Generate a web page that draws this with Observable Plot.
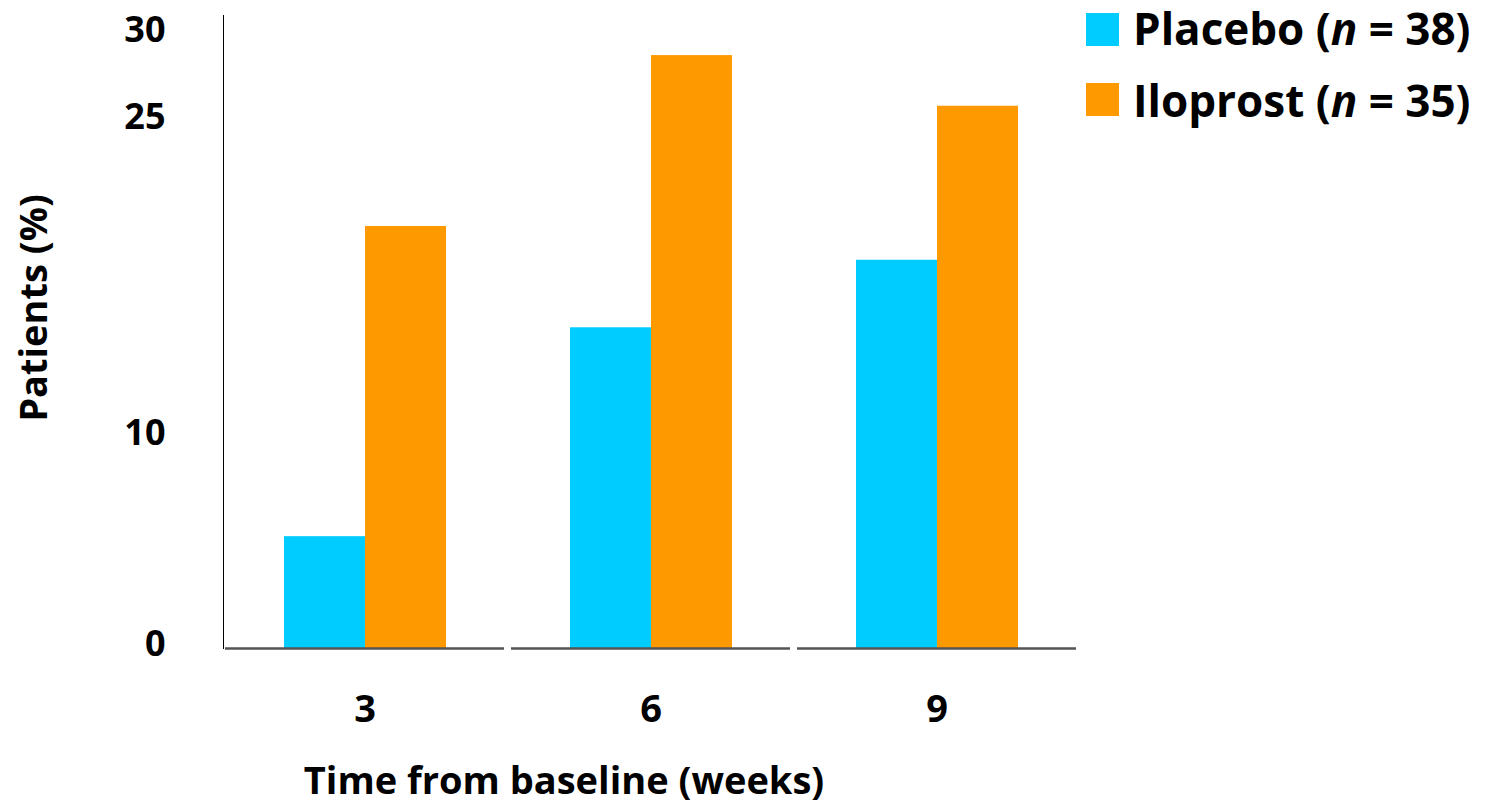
<!DOCTYPE html>
<html>
<head>
<meta charset="utf-8">
<script src="https://cdn.jsdelivr.net/npm/d3@7"></script>
<script src="https://cdn.jsdelivr.net/npm/@observablehq/plot@0.6"></script>
<style>
  html, body { margin: 0; padding: 0; background: #fff; }
  #wrap { position: relative; width: 1491px; height: 806px; font-family: "Open Sans", sans-serif; font-weight: 700; color: #000; }
  #wrap svg { position: absolute; left: 0; top: 0; }
  .lab { position: absolute; white-space: nowrap; line-height: 1; }
  .sw { position: absolute; width: 33px; height: 33px; }
</style>
</head>
<body>
<div id="wrap"></div>
<script>
const weeks = ["3", "6", "9"];
const groups = ["Placebo", "Iloprost"];
const groupLabels = ["Placebo", "Iloprost"];
const groupN = [38, 35];
const placeboValues = [5.3, 15.2, 18.4];
const iloprostValues = [20.0, 28.1, 25.7];
const yTicks = [0, 10, 25, 30];
const colors = ["#00CCFF", "#FF9900"];
const xTitle = "Time from baseline (weeks)";
const yTitle = "Patients (%)";

const rows = [];
weeks.forEach((w, i) => {
  rows.push({week: w, group: groups[0], value: placeboValues[i]});
  rows.push({week: w, group: groups[1], value: iloprostValues[i]});
});

const chart = Plot.plot({
  width: 1491,
  height: 806,
  marginLeft: 222,
  marginRight: 411,
  marginTop: 15,
  marginBottom: 158,
  style: {fontFamily: "'Open Sans', sans-serif", fontWeight: 700, fontSize: "36px", color: "#000", background: "transparent", overflow: "visible"},
  fx: {domain: weeks, paddingInner: 0.01, paddingOuter: 0, label: null},
  x: {domain: groups, paddingInner: 0, paddingOuter: 0.744, axis: null},
  y: {domain: [0, 30], label: null, line: true, ticks: yTicks, tickSize: 0, tickPadding: 58, tickFormat: d => String(d)},
  color: {domain: groups, range: colors},
  marks: [
    Plot.barY(rows, {fx: "week", x: "group", y: "value", fill: "group"}),
    Plot.ruleY([0], {stroke: "#555", strokeWidth: 2.5, insetLeft: 2, insetRight: 2}),
    Plot.axisFx({anchor: "bottom", tickSize: 0, tickPadding: 47, fontSize: 38, label: null})
  ]
});
const wrap = document.getElementById("wrap");
wrap.appendChild(chart);

// nudge y tick labels as placed in the reference (top label sits lower than its tick)
chart.querySelectorAll("text").forEach(el => {
  const g = el.closest("g[aria-label]");
  if (!g || !/y-axis tick label/.test(g.getAttribute("aria-label"))) return;
  const shift = el.textContent === "30" ? 15 : -4;
  const tr = el.getAttribute("transform") || "";
  el.setAttribute("transform", tr + " translate(0," + shift + ")");
});

// titles
const xt = document.createElement("div");
xt.className = "lab";
xt.style.fontSize = "38px";
xt.style.left = "564px";
xt.style.top = "760px";
xt.style.transform = "translateX(-50%)";
xt.textContent = xTitle;
wrap.appendChild(xt);

const yt = document.createElement("div");
yt.className = "lab";
yt.style.fontSize = "38px";
yt.style.left = "32px";
yt.style.top = "308px";
yt.style.transform = "translate(-50%, -50%) rotate(-90deg)";
yt.textContent = yTitle;
wrap.appendChild(yt);

// legend
const legendTops = [6, 78];
const swatchTops = [13, 83];
groups.forEach((g, i) => {
  const sw = document.createElement("div");
  sw.className = "sw";
  sw.style.left = "1086px";
  sw.style.top = swatchTops[i] + "px";
  sw.style.background = colors[i];
  wrap.appendChild(sw);
  const t = document.createElement("div");
  t.className = "lab";
  t.style.fontSize = "44px";
  t.style.left = "1133px";
  t.style.top = legendTops[i] + "px";
  t.innerHTML = groupLabels[i] + " (<i>n</i> = " + groupN[i] + ")";
  wrap.appendChild(t);
});
</script>
</body>
</html>
